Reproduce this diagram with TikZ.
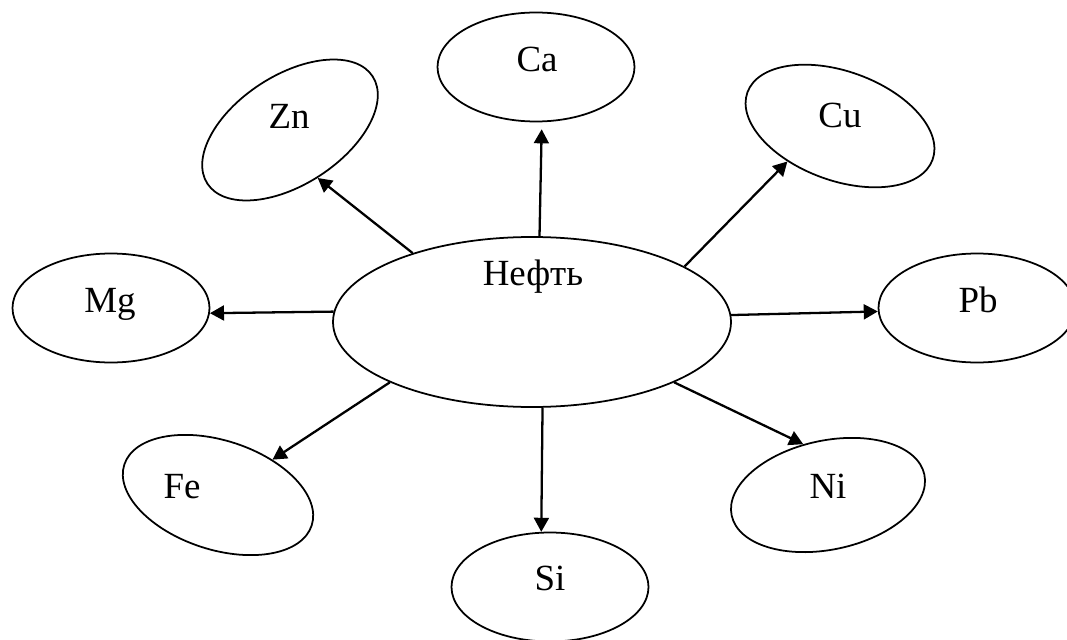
\documentclass[tikz,border=0pt]{standalone}
\usepackage{fontspec}
\setmainfont{Liberation Serif}
\usetikzlibrary{shapes.geometric,arrows.meta}

\begin{document}
\begin{tikzpicture}[
    x=0.2mm,
    y=-0.2mm,
    >={Triangle[length=8pt,width=8.5pt]},
    font=\fontsize{21}{25}\selectfont,
    elem/.style={
		ellipse,
		draw=black,
		line width=1pt,
		inner sep=0pt,
		minimum width=39.4mm,
		minimum height=21.8mm
	},
	source/.style={
		ellipse,
		draw=black,
		line width=1pt,
		inner sep=0pt,
		minimum width=79.6mm,
		minimum height=34mm
	},
	elemtext/.style={
		anchor=base,
		inner sep=0pt
	},
	link/.style={
		->,
		line width=1.3pt
	}
  ]

\useasboundingbox (0,0) rectangle (1067,639);

% // the centre
 \node [source] (oil) at (532,322) {};
 \node [elemtext] (oiltext) at (533,285) {Нефть};

% // the elements round it
 \node [elem] (ca) at (536,67) {};
 \node [elem, rotate=33] (zn) at (290,130) {};
 \node [elem, rotate=-20] (cu) at (840,126) {};
 \node [elem] (mg) at (111,308) {};
 \node [elem] (pb) at (977,308) {};
 \node [elem, rotate=-18] (fe) at (218,495) {};
 \node [elem, rotate=12] (ni) at (828,495) {};
 \node [elem] (si) at (550,587) {};

 \node [elemtext] (catext) at (537,72) {Ca};
 \node [elemtext] (zntext) at (289,129) {Zn};
 \node [elemtext] (cutext) at (840,128) {Cu};
 \node [elemtext] (mgtext) at (110,312) {Mg};
 \node [elemtext] (pbtext) at (978,312) {Pb};
 \node [elemtext] (fetext) at (182,498) {Fe};
 \node [elemtext] (nitext) at (828,498) {Ni};
 \node [elemtext] (sitext) at (550,590) {Si};

% // arrows
 \draw [link, shorten >=1.4mm] (oil.85) -- (ca.-84);
 \draw [link] (oil.150.5) -- (zn.-93);
 \draw [link] (oil.20) -- (cu.234);
 \draw [link] (oil.177.4) -- (mg.-3);
 \draw [link] (oil.2.6) -- (pb.182.2);
 \draw [link] (oil.203.2) -- (fe.51);
 \draw [link] (oil.337.9) -- (ni.104);
 \draw [link] (oil.277.4) -- (si.99.5);

\end{tikzpicture}
\end{document}
